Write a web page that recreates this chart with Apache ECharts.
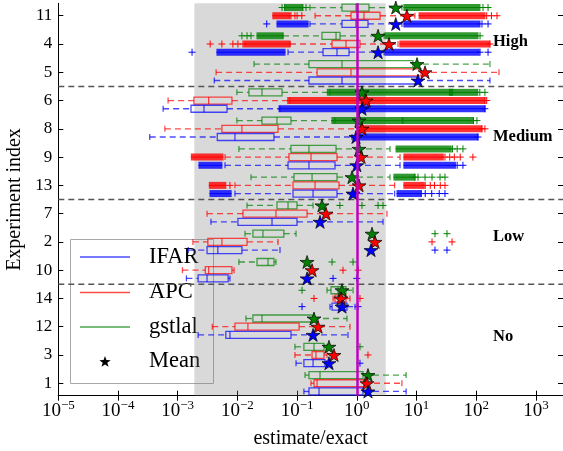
<!DOCTYPE html>
<html><head><meta charset="utf-8">
<script src="https://cdn.jsdelivr.net/npm/echarts@6/dist/echarts.min.js"></script>
<style>html,body{margin:0;padding:0;background:#fff}#c{width:563px;height:451px}</style>
</head><body><div id="c"></div>
<script>
// categories, bottom to top
const cats = ['1','3','12','14','10','2','7','13','9','8','6','5','4','11'];
const groupBounds = [['14','10'], ['7','13'], ['6','5']];
const groupNames = ['High','Medium','Low','No'];
const legendNames = ['IFAR','APC','gstlal','Mean'];
const xTickExp = [-5,-4,-3,-2,-1,0,1,2,3];
const shadeRange = [0.0019, 3.05];
const exactValue = 1;

// [whisker low, Q1, median, Q3, whisker high] in cats order
const gstlalBox = [
 [0.136,0.158,0.242,1.27,6.7],[0.092,0.13,0.192,0.282,0.317],[0.0139,0.0182,0.0258,0.185,0.685],
 [0.317,0.37,0.484,0.659,0.864],[0.0106,0.0213,0.0326,0.041,0.0443],[0.0134,0.0182,0.0268,0.060,0.096],
 [0.0145,0.046,0.0705,0.0996,0.185],[0.0169,0.0887,0.178,0.466,3.6],[0.0106,0.079,0.158,0.449,3.6],
 [0.0098,0.0258,0.046,0.079,0.431],[0.0098,0.0156,0.0258,0.0559,0.356],[0.019,0.158,0.565,8.7,170],
 [0.058,0.261,0.449,0.523,2.86],[0.164,0.565,0.97,1.6,5.7]
];
const apcBox = [
 [0.171,0.192,0.216,1.32,5.7],[0.092,0.178,0.207,0.282,0.317],[0.0038,0.0091,0.015,0.108,0.769],
 [0.40,0.431,0.523,0.659,0.769],[0.0012,0.0029,0.0033,0.0081,0.0088],[0.0018,0.0032,0.0055,0.0145,0.0479],
 [0.0031,0.0124,0.0443,0.147,3.2],[0.0091,0.0854,0.20,0.503,4.3],[0.0062,0.0732,0.171,0.466,5.3],
 [0.00061,0.0055,0.0119,0.0479,1.13],[0.00069,0.00187,0.0033,0.0081,0.076],[0.0044,0.216,0.80,11.9,241],
 [0.076,0.385,0.659,1.13,4.9],[0.20,0.80,1.32,2.45,9.4]
];
const ifarBox = [
 [0.13,0.158,0.233,1.27,6.7],[0.096,0.13,0.185,0.293,0.31],[0.0022,0.0064,0.0075,0.079,0.712],
 [0.356,0.385,0.503,0.685,0.933],[0.0014,0.0022,0.0031,0.0070,0.0075],[0.0015,0.0031,0.0047,0.0119,0.0517],
 [0.0036,0.0102,0.038,0.0996,2.75],[0.0091,0.0854,0.185,0.466,4.3],[0.0062,0.0705,0.158,0.431,5.3],
 [0.00034,0.0046,0.0091,0.041,0.832],[0.00057,0.00167,0.00276,0.0067,0.0517],[0.0041,0.158,0.565,10.2,170],
 [0.0705,0.272,0.466,0.74,2.86],[0.164,0.565,0.97,1.54,5.7]
];
const gstlalMean = [1.54,0.342,0.192,0.565,0.147,1.8,0.261,0.832,1.09,1.09,1.22,10.2,2.27,4.5];
const apcMean    = [1.48,0.415,0.224,0.544,0.178,2.02,0.305,1.09,1.18,1.22,1.43,13.9,3.46,6.9];
const ifarMean   = [1.54,0.342,0.185,0.565,0.147,1.73,0.242,0.864,1.0,0.97,1.22,10.6,2.27,4.5];

// single outliers [category, value]
const gstlalOut = [['3',1.13],['14',0.121],['10',0.385],['10',0.864],['2',20.4],['2',32.4],
 ['7',0.52],['7',1.22],['7',2.27],['7',2.75],['13',9.4],['13',10.6],['13',13.9],['13',18.2],['13',24.8],['13',30],
 ['9',40],['9',48],['9',60],['8',90],['8',103],['6',115],['6',140],
 ['4',0.0119],['4',0.0145],['4',0.0169],['4',116],['11',0.056],['11',0.062],['11',0.125],['11',0.141],['11',130],['11',158]];
const apcOut = [['3',1.54],['14',0.192],['14',1.13],['10',0.587],['10',1.05],['2',18.2],['2',39.4],
 ['13',0.0075],['13',14],['13',17],['13',20],['13',25],['13',30],
 ['9',30],['9',36],['9',43],['9',54],['9',88],['8',125],['8',140],['6',140],['6',150],
 ['4',0.0035],['4',0.0055],['4',0.0084],['4',0.0102],['4',0.0124],['4',170],
 ['11',0.079],['11',0.092],['11',0.1],['11',0.12],['11',150],['11',180],['11',223]];
const ifarOut = [['3',1.13],['14',0.121],['14',1.05],['10',0.40],['10',1.0],['2',20.4],['2',32.4],
 ['13',12],['13',14],['13',18],['13',24],['13',30],['9',48],['9',60],['8',107],['6',140],
 ['4',0.00174],['4',116],['4',158],['11',0.031],['11',125],['11',158]];
// dense runs of outliers [category, from, to]
const gstlalBand = [['13',4.7,8.4],['9',5.1,34],['8',0.43,5.3],['8',6.5,79],['6',0.36,36],['6',40,95],
 ['4',0.0239,0.0517],['4',3.33,95.5],['11',0.07,0.11],['11',6.9,103]];
const apcBand = [['13',0.0038,0.0057],['13',6.9,12],['9',0.0019,0.0051],['9',6.9,25],['8',1.2,110],['6',0.078,125],
 ['4',0.0145,0.0678],['4',5.9,150],['11',0.044,0.068],['11',12.4,125]];
const ifarBand = [['13',0.0039,0.007],['13',5.3,10.6],['9',0.00255,0.0049],['9',6.9,40],['8',1.13,95],['6',0.056,125],
 ['4',0.0051,0.0559],['4',3.33,100],['11',0.0517,0.136],['11',6.9,103]];

const F = 'Liberation Serif';
const methods = [
  {name:'gstlal', color:'#008000', soft:'rgba(0,128,0,0.7)', dy:-8.2, box:gstlalBox, mean:gstlalMean, out:gstlalOut, band:gstlalBand},
  {name:'APC', color:'#ff0000', soft:'rgba(255,0,0,0.7)', dy:0, box:apcBox, mean:apcMean, out:apcOut, band:apcBand},
  {name:'IFAR', color:'#0000ff', soft:'rgba(0,0,255,0.7)', dy:8.2, box:ifarBox, mean:ifarMean, out:ifarOut, band:ifarBand}
];
const idx = c => cats.indexOf(c);
const XMIN = 1e-5, XMAX = Math.pow(10, 3.454);
const STAR = 'path://M50,0 L61,35 L98,35 L68,57 L79,91 L50,70 L21,91 L32,57 L2,35 L39,35 Z';

function boxRenderer(dy, col) {
  return function (params, api) {
    const ci = api.value(0);
    const x = [1,2,3,4,5].map(i => api.coord([api.value(i), ci])[0]);
    const y = api.coord([api.value(3), ci])[1] + dy;
    const h = 7, cap = 3;
    const ls = {stroke: col, lineWidth: 1.3, fill: 'none'};
    const dash = {stroke: col, lineWidth: 1.3, lineDash: [6,4], fill: 'none'};
    return {type:'group', children:[
      {type:'line', shape:{x1:x[0],y1:y,x2:x[1],y2:y}, style:dash},
      {type:'line', shape:{x1:x[3],y1:y,x2:x[4],y2:y}, style:dash},
      {type:'line', shape:{x1:x[0],y1:y-cap,x2:x[0],y2:y+cap}, style:ls},
      {type:'line', shape:{x1:x[4],y1:y-cap,x2:x[4],y2:y+cap}, style:ls},
      {type:'rect', shape:{x:x[1],y:y-h/2,width:x[3]-x[1],height:h}, style:ls},
      {type:'line', shape:{x1:x[2],y1:y-h/2,x2:x[2],y2:y+h/2}, style:ls}
    ]};
  };
}
function plusRenderer(dy, col) {
  return function (params, api) {
    const p = api.coord([api.value(1), api.value(0)]);
    const x = p[0], y = p[1] + dy, s = 3.5;
    const st = {stroke: col, lineWidth: 1, fill: 'none'};
    return {type:'group', children:[
      {type:'line', shape:{x1:x-s,y1:y,x2:x+s,y2:y}, style:st},
      {type:'line', shape:{x1:x,y1:y-s,x2:x,y2:y+s}, style:st}
    ]};
  };
}
function bandRenderer(dy, col) {
  return function (params, api) {
    const ci = api.value(0);
    const a = api.coord([api.value(1), ci]), b = api.coord([api.value(2), ci]);
    const y = a[1] + dy;
    return {type:'group', children:[
      {type:'rect', shape:{x:a[0]-3.5, y:y-3.5, width:b[0]-a[0]+7, height:7}, style:{fill: col, opacity: 0.8}},
      {type:'line', shape:{x1:a[0]-3.5,y1:y,x2:b[0]+3.5,y2:y}, style:{stroke: col, lineWidth: 1}}
    ]};
  };
}

const series = [];
series.push({type:'scatter', xAxisIndex:1, yAxisIndex:2, data:[], z:0, silent:true,
  markArea:{silent:true, itemStyle:{color:'rgba(128,128,128,0.3)'}, data:[[{xAxis:shadeRange[0]},{xAxis:shadeRange[1]}]]}});
series.push({type:'custom', xAxisIndex:0, yAxisIndex:0, z:1, silent:true,
  data: groupBounds.map(g => [idx(g[0]), idx(g[1])]),
  encode:{y:[0,1]},
  renderItem: function (params, api) {
    const cs = params.coordSys;
    const y = (api.coord([1, api.value(0)])[1] + api.coord([1, api.value(1)])[1]) / 2;
    return {type:'line', shape:{x1:cs.x, y1:y, x2:cs.x+cs.width, y2:y}, style:{stroke:'#555', lineWidth:1.5, lineDash:[6,4]}};
  }});
methods.forEach(m => {
  series.push({type:'custom', name:m.name+' box', xAxisIndex:0, yAxisIndex:0, z:2, silent:true,
    data: m.box.map((b,i) => [i].concat(b)), encode:{x:[1,2,3,4,5], y:0}, renderItem: boxRenderer(m.dy, m.soft)});
  series.push({type:'custom', name:m.name+' out', xAxisIndex:0, yAxisIndex:0, z:2, silent:true,
    data: m.out.map(o => [idx(o[0]), o[1]]), encode:{x:1, y:0}, renderItem: plusRenderer(m.dy, m.color)});
  series.push({type:'custom', name:m.name+' band', xAxisIndex:0, yAxisIndex:0, z:2, silent:true,
    data: m.band.map(o => [idx(o[0]), o[1], o[2]]), encode:{x:[1,2], y:0}, renderItem: bandRenderer(m.dy, m.color)});
});
series.push({type:'scatter', xAxisIndex:1, yAxisIndex:2, data:[], z:3, silent:true,
  markLine:{silent:true, symbol:['none','none'], label:{show:false}, lineStyle:{color:'#bf00bf', width:2.5, type:'solid'},
    data:[{xAxis:exactValue}]}});
methods.forEach(m => {
  series.push({type:'scatter', name:m.name+' mean', xAxisIndex:0, yAxisIndex:0, z:4, silent:true,
    symbol:STAR, symbolSize:[14,13], symbolOffset:[0, m.dy],
    itemStyle:{color:m.color, borderColor:'#000', borderWidth:0.7, opacity:1},
    data: m.mean.map((v,i) => [v, i])});
});

const tickFmt = function (v) {
  const l = Math.log10(v), e = Math.round(l);
  if (Math.abs(l - e) > 1e-3 || xTickExp.indexOf(e) < 0) return '';
  return '{b|10}{s|' + (e < 0 ? '\u2212' + (-e) : e) + '}';
};
const logBase = {type:'log', logBase:10, min:XMIN, max:XMAX, splitLine:{show:false}, minorTick:{show:false}};

function starPts(cx, cy, R) {
  const pts = [];
  for (let k = 0; k < 10; k++) {
    const r = k % 2 === 0 ? R : R * 0.4;
    const a = -Math.PI / 2 + k * Math.PI / 5;
    pts.push([cx + r * Math.cos(a), cy + r * Math.sin(a)]);
  }
  return pts;
}
const lgX = 70.5, lgY = 239.5, rowY = [257, 292.5, 327, 361.5];
const lgCols = ['rgba(0,0,255,0.7)','rgba(255,0,0,0.7)','rgba(0,128,0,0.7)'];
const lgChildren = [{type:'rect', shape:{x:lgX, y:lgY, width:143, height:144}, style:{fill:'rgba(255,255,255,0.6)', stroke:'#a8a8a8', lineWidth:1}}];
legendNames.forEach((n,i) => {
  if (i < 3) lgChildren.push({type:'line', shape:{x1:80,y1:rowY[i],x2:130,y2:rowY[i]}, style:{stroke:lgCols[i], lineWidth:1.5}});
  else lgChildren.push({type:'polygon', shape:{points: starPts(105, rowY[i] + 0.5, 6)}, style:{fill:'#000'}});
  lgChildren.push({type:'text', x:149, y:rowY[i], style:{text:n, font:'22.5px "Liberation Serif"', fill:'#000', verticalAlign:'middle'}});
});
const groupY = [42, 137, 237, 337];
groupNames.forEach((n,i) => {
  lgChildren.push({type:'text', x:493, y:groupY[i], style:{text:n, font:'bold 16.5px "Liberation Serif"', fill:'#000', verticalAlign:'middle'}});
});

const option = {
  animation:false,
  backgroundColor:'#fff',
  grid:[
    {left:58.3, right:0, top:1.6, bottom:53.6, outerBoundsMode:'none', containLabel:false},
    {left:58.3, right:0, top:3.3, bottom:55.3, outerBoundsMode:'none', containLabel:false}
  ],
  xAxis:[
    Object.assign({gridIndex:0, show:false}, logBase),
    Object.assign({gridIndex:1, position:'bottom',
      axisLine:{show:true, lineStyle:{color:'#000', width:1}},
      axisTick:{show:true, inside:true, length:5, lineStyle:{color:'#000'}},
      axisLabel:{show:true, margin:3, formatter:tickFmt, color:'#000',
        rich:{b:{fontSize:19, fontFamily:F, color:'#000', lineHeight:22, verticalAlign:'bottom'},
              s:{fontSize:13, fontFamily:F, color:'#000', lineHeight:14, verticalAlign:'top'}}},
      name:'estimate/exact', nameLocation:'middle', nameGap:33,
      nameTextStyle:{fontFamily:F, fontSize:20, color:'#000'}}, logBase),
    Object.assign({gridIndex:1, position:'top',
      axisLine:{show:true, lineStyle:{color:'#000', width:1}},
      axisTick:{show:true, inside:true, length:5, lineStyle:{color:'#000'}},
      axisLabel:{show:false}}, logBase)
  ],
  yAxis:[
    {gridIndex:0, type:'category', data:cats, position:'left', boundaryGap:true,
      axisLine:{show:false}, splitLine:{show:false},
      axisTick:{show:true, inside:true, length:5, alignWithLabel:true, lineStyle:{color:'#000'}},
      axisLabel:{fontFamily:F, fontSize:17, color:'#000', margin:6},
      name:'Experiment index', nameLocation:'middle', nameGap:31,
      nameTextStyle:{fontFamily:F, fontSize:20, color:'#000'}},
    {gridIndex:0, type:'category', data:cats, position:'right', boundaryGap:true,
      axisLine:{show:false}, splitLine:{show:false},
      axisTick:{show:true, inside:true, length:5, alignWithLabel:true, lineStyle:{color:'#000'}},
      axisLabel:{show:false}},
    {gridIndex:1, type:'value', min:0, max:1, position:'left',
      axisLine:{show:true, lineStyle:{color:'#000', width:1}}, axisTick:{show:false}, axisLabel:{show:false}, splitLine:{show:false}},
    {gridIndex:1, type:'value', min:0, max:1, position:'right',
      axisLine:{show:true, lineStyle:{color:'#000', width:1}}, axisTick:{show:false}, axisLabel:{show:false}, splitLine:{show:false}}
  ],
  series: series,
  graphic:{elements:[{type:'group', z:100, children:lgChildren}]}
};
const chart = echarts.init(document.getElementById('c'), null, {renderer:'canvas'});
chart.setOption(option);
</script></body></html>
